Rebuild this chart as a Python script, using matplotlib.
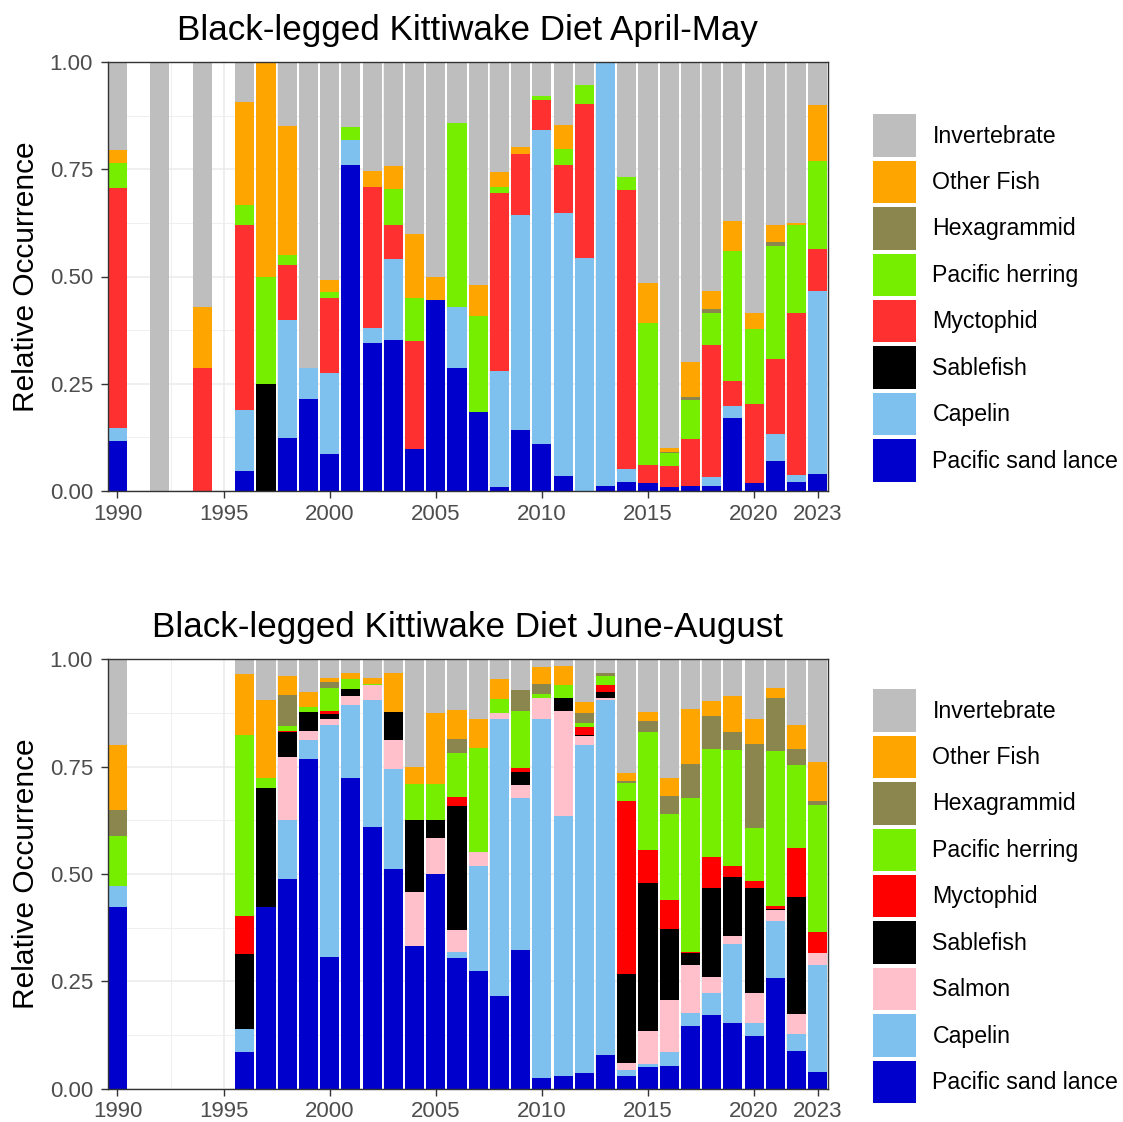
import matplotlib
matplotlib.use("Agg")
import matplotlib.pyplot as plt
from matplotlib.patches import Patch
import numpy as np

plt.rcParams['font.family'] = ['Liberation Sans', 'DejaVu Sans']

# ---------------- Data: April-May ----------------
years_am = [1990, 1992, 1994] + list(range(1996, 2024))
am_sand_lance = [0.116, 0, 0, 0.046, 0, 0.124, 0.214, 0.086, 0.759, 0.346, 0.352, 0.098, 0.445, 0.286, 0.184,
                 0.010, 0.142, 0.109, 0.036, 0, 0.012, 0.020, 0.019, 0.010, 0.012, 0.011, 0.171, 0.019, 0.071, 0.022, 0.040]
am_capelin = [0.030, 0, 0, 0.143, 0, 0.275, 0.072, 0.189, 0.060, 0.035, 0.188, 0, 0, 0.142, 0,
              0.270, 0.501, 0.732, 0.612, 0.544, 0.988, 0.032, 0, 0, 0, 0.021, 0.026, 0, 0.061, 0.016, 0.427]
am_sablefish = [0, 0, 0, 0, 0.250, 0, 0, 0, 0, 0, 0, 0, 0, 0, 0,
                0, 0, 0, 0, 0, 0, 0, 0, 0, 0, 0, 0, 0, 0, 0, 0]
am_myctophid = [0.560, 0, 0.286, 0.430, 0, 0.127, 0, 0.174, 0, 0.328, 0.081, 0.252, 0, 0, 0,
                0.415, 0.142, 0.070, 0.113, 0.359, 0, 0.650, 0.041, 0.049, 0.109, 0.308, 0.060, 0.183, 0.176, 0.376, 0.098]
am_herring = [0.059, 0, 0, 0.048, 0.249, 0.025, 0, 0.015, 0.030, 0, 0.082, 0.101, 0, 0.429, 0.223,
              0.013, 0, 0.009, 0.036, 0.043, 0, 0.030, 0.332, 0.029, 0.092, 0.074, 0.302, 0.175, 0.264, 0.206, 0.205]
am_hexagrammid = [0, 0, 0, 0, 0, 0, 0, 0, 0, 0, 0, 0, 0, 0, 0,
                  0, 0, 0, 0, 0, 0, 0, 0, 0.003, 0.005, 0.010, 0, 0, 0.009, 0, 0]
am_other_fish = [0.029, 0, 0.142, 0.239, 0.501, 0.299, 0, 0.029, 0, 0.036, 0.054, 0.149, 0.054, 0, 0.074,
                 0.036, 0.016, 0, 0.057, 0, 0, 0, 0.094, 0.009, 0.083, 0.043, 0.071, 0.037, 0.038, 0.005, 0.129]
am_invertebrate = [0.206, 1.0, 0.572, 0.094, 0, 0.150, 0.714, 0.507, 0.151, 0.255, 0.243, 0.400, 0.501, 0.143, 0.519,
                   0.256, 0.199, 0.080, 0.146, 0.054, 0, 0.268, 0.514, 0.900, 0.699, 0.533, 0.370, 0.586, 0.381, 0.375, 0.101]

# ---------------- Data: June-August ----------------
years_ja = [1990] + list(range(1996, 2024))
ja_sand_lance = [0.424, 0.086, 0.424, 0.488, 0.767, 0.307, 0.724, 0.609, 0.511, 0.332, 0.500, 0.304, 0.275, 0.216, 0.323,
                 0.026, 0.030, 0.037, 0.079, 0.029, 0.051, 0.054, 0.145, 0.171, 0.153, 0.122, 0.258, 0.088, 0.040]
ja_capelin = [0.049, 0.053, 0, 0.138, 0.046, 0.540, 0.169, 0.296, 0.234, 0, 0, 0.015, 0.243, 0.645, 0.353,
              0.834, 0.605, 0.764, 0.826, 0.015, 0.007, 0.032, 0.032, 0.052, 0.183, 0.030, 0.132, 0.040, 0.248]
ja_salmon = [0, 0, 0, 0.147, 0.020, 0.014, 0.021, 0.034, 0.066, 0.126, 0.083, 0.051, 0.034, 0.015, 0.031,
             0.049, 0.244, 0.021, 0.006, 0.015, 0.077, 0.121, 0.112, 0.038, 0.019, 0.071, 0.027, 0.046, 0.028]
ja_sablefish = [0, 0.175, 0.277, 0.057, 0.045, 0.012, 0.016, 0, 0.067, 0.167, 0.042, 0.288, 0, 0, 0.031,
                0, 0.030, 0.002, 0.013, 0.208, 0.345, 0.165, 0.028, 0.207, 0.138, 0.244, 0.002, 0.273, 0]
ja_myctophid = [0, 0.088, 0, 0.003, 0, 0.006, 0, 0, 0, 0, 0, 0.021, 0, 0, 0.010,
                0, 0, 0.018, 0.016, 0.402, 0.076, 0.068, 0.002, 0.071, 0.026, 0.017, 0.007, 0.113, 0.049]
ja_herring = [0.115, 0.421, 0.023, 0.012, 0.011, 0.055, 0.023, 0.004, 0, 0.084, 0.084, 0.102, 0.241, 0.031, 0.131,
              0.011, 0.030, 0.010, 0.020, 0.042, 0.275, 0.200, 0.357, 0.251, 0.269, 0.123, 0.360, 0.195, 0.295]
ja_hexagrammid = [0.061, 0, 0, 0.072, 0, 0.012, 0, 0, 0, 0, 0, 0.034, 0, 0, 0.050,
                  0.023, 0, 0.023, 0.007, 0.005, 0.025, 0.041, 0.080, 0.079, 0.042, 0.195, 0.123, 0.035, 0.009]
ja_other_fish = [0.151, 0.142, 0.182, 0.045, 0.034, 0.011, 0.016, 0.014, 0.090, 0.040, 0.166, 0.066, 0.068, 0.047, 0,
                 0.038, 0.046, 0.025, 0, 0.019, 0.022, 0.042, 0.128, 0.034, 0.085, 0.059, 0.025, 0.058, 0.091]
ja_invertebrate = [0.200, 0.035, 0.094, 0.038, 0.077, 0.043, 0.031, 0.043, 0.032, 0.251, 0.125, 0.119, 0.139, 0.046, 0.071,
                   0.019, 0.015, 0.100, 0.033, 0.265, 0.122, 0.277, 0.116, 0.097, 0.085, 0.139, 0.066, 0.152, 0.240]

x_breaks = [1990, 1995, 2000, 2005, 2010, 2015, 2020, 2023]
y_breaks = [0.0, 0.25, 0.5, 0.75, 1.0]

C_SL = '#0000CD'
C_CA = '#7EC0EE'
C_SM = '#FFC0CB'
C_SB = '#000000'
C_HE = '#76EE00'
C_HX = '#8B864E'
C_OF = '#FFA500'
C_IN = '#BEBEBE'

series_am = [("Pacific sand lance", am_sand_lance, C_SL),
             ("Capelin", am_capelin, C_CA),
             ("Sablefish", am_sablefish, C_SB),
             ("Myctophid", am_myctophid, '#FF3030'),
             ("Pacific herring", am_herring, C_HE),
             ("Hexagrammid", am_hexagrammid, C_HX),
             ("Other Fish", am_other_fish, C_OF),
             ("Invertebrate", am_invertebrate, C_IN)]

series_ja = [("Pacific sand lance", ja_sand_lance, C_SL),
             ("Capelin", ja_capelin, C_CA),
             ("Salmon", ja_salmon, C_SM),
             ("Sablefish", ja_sablefish, C_SB),
             ("Myctophid", ja_myctophid, '#FF0000'),
             ("Pacific herring", ja_herring, C_HE),
             ("Hexagrammid", ja_hexagrammid, C_HX),
             ("Other Fish", ja_other_fish, C_OF),
             ("Invertebrate", ja_invertebrate, C_IN)]

W, H = 1123, 1122
fig = plt.figure(figsize=(W / 100, H / 100), dpi=100)


def fx(px):
    return px / W


def fy(py):
    return 1 - py / H


def make_panel(rect, years, series, title, leg_top):
    ax = fig.add_axes(rect)
    ax.set_axisbelow(True)
    bottom = np.zeros(len(years))
    handles = []
    for name, vals, col in series:
        v = np.array(vals, dtype=float)
        ax.bar(years, v, bottom=bottom, width=0.9, color=col, linewidth=0)
        bottom += v
        handles.append(Patch(facecolor=col, edgecolor='none', label=name))
    ax.set_xlim(1989.53, 2023.47)
    ax.set_ylim(0, 1)
    ax.set_xticks(x_breaks)
    ax.set_xticklabels([str(b) for b in x_breaks])
    ax.set_yticks(y_breaks)
    ax.set_yticklabels(["%.2f" % b for b in y_breaks])
    ax.set_xticks([1992.5, 1997.5, 2002.5, 2007.5, 2012.5, 2017.5, 2021.5], minor=True)
    ax.set_yticks([0.125, 0.375, 0.625, 0.875], minor=True)
    ax.grid(which='major', color='#EBEBEB', linewidth=1.1)
    ax.grid(which='minor', color='#EBEBEB', linewidth=0.55)
    ax.tick_params(which='minor', length=0)
    ax.tick_params(which='major', length=5, width=1.0, color='#333333',
                   labelsize=16, labelcolor='#4D4D4D', pad=4)
    ax.tick_params(axis='y', pad=5.5)
    for s in ax.spines.values():
        s.set_color('#333333')
        s.set_linewidth(1.0)
    ax.set_title(title, fontsize=25.2, pad=16)
    ax.set_ylabel("Relative Occurrence", fontsize=21.5)
    ax.yaxis.set_label_coords(-0.094, 0.5)
    handles = handles[::-1]
    fig.legend(handles=handles, labels=[h.get_label() for h in handles],
               loc='upper left', bbox_to_anchor=(fx(873.3), fy(leg_top)),
               frameon=False, borderpad=0, borderaxespad=0,
               fontsize=16.7, handlelength=1.83, handleheight=2.44,
               labelspacing=0.17, handletextpad=0.72)
    return ax


top_rect = [fx(107.5), fy(491), fx(827.7) - fx(107.5), fy(62) - fy(491)]
bot_rect = [fx(107.5), fy(1088.7), fx(827.7) - fx(107.5), fy(659.3) - fy(1088.7)]

make_panel(top_rect, years_am, series_am, "Black-legged Kittiwake Diet April-May", 114.3)
make_panel(bot_rect, years_ja, series_ja, "Black-legged Kittiwake Diet June-August", 689.3)

fig.savefig("out.png", dpi=100)
